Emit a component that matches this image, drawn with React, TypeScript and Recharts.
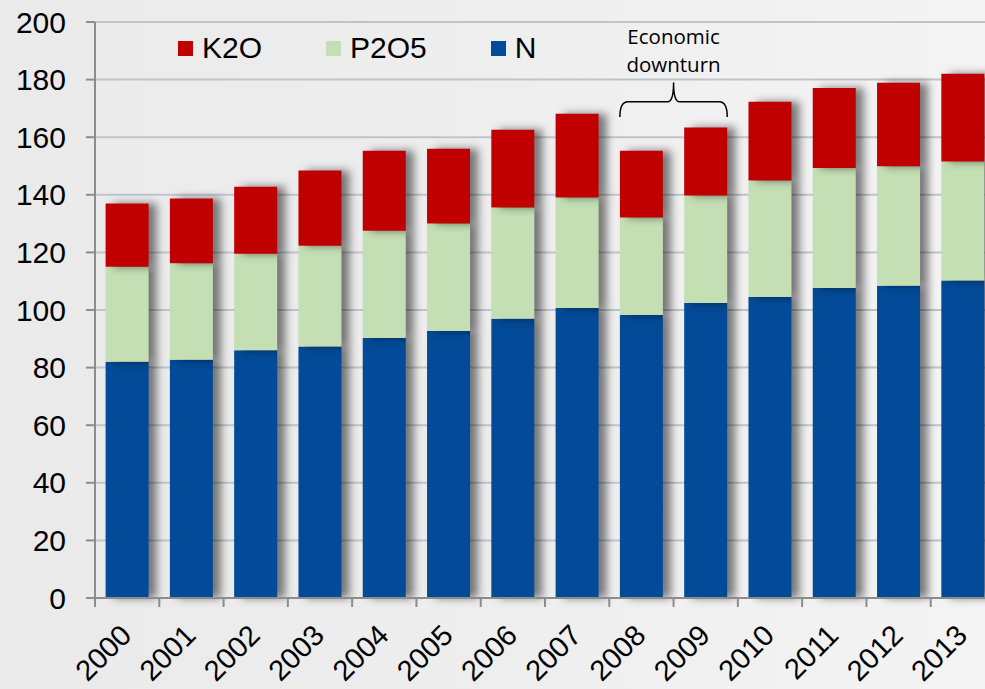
import { BarChart, Bar, XAxis, YAxis, CartesianGrid, ReferenceArea } from 'recharts';

const years = ['2000', '2001', '2002', '2003', '2004', '2005', '2006', '2007', '2008', '2009', '2010', '2011', '2012', '2013'];
const nValues = [82, 82.7, 86, 87.3, 90.3, 92.7, 97, 100.7, 98.3, 102.4, 104.5, 107.6, 108.4, 110.2];
const p2o5Values = [33, 33.5, 33.5, 35, 37.2, 37.3, 38.6, 38.4, 33.8, 37.4, 40.5, 41.7, 41.5, 41.4];
const k2oValues = [22, 22.5, 23.3, 26.1, 27.8, 26, 27, 29, 23.2, 23.6, 27.3, 27.8, 29, 30.4];
const yTicks = [0, 20, 40, 60, 80, 100, 120, 140, 160, 180, 200];

const legendItems = [
  { name: 'K2O', color: '#C00000' },
  { name: 'P2O5', color: '#C4DFB4' },
  { name: 'N', color: '#034B98' },
];

const data = years.map((year, i) => ({
  year,
  N: nValues[i],
  P2O5: p2o5Values[i],
  K2O: k2oValues[i],
}));

const FONT = '"Liberation Sans", Arial, sans-serif';

// eslint-disable-next-line @typescript-eslint/no-explicit-any
function YearTick({ x, y, payload }: any) {
  const off = payload?.offset ?? 32.14;
  return (
    <g>
      <line x1={x - off} x2={x - off} y1={y} y2={y + 9} stroke="#8C8C8C" strokeWidth={2} />
      <text
        x={x + 6}
        y={y + 39}
        transform={`rotate(-45, ${x + 6}, ${y + 39})`}
        textAnchor="end"
        fontSize={29}
        fontFamily={FONT}
        fill="#000"
      >
        {payload.value}
      </text>
    </g>
  );
}

function LegendBox() {
  return (
    <div
      style={{
        position: 'absolute', left: 178, top: 31, display: 'flex', alignItems: 'center',
        fontFamily: FONT, fontSize: 30, lineHeight: '34px',
      }}
    >
      {legendItems.map(item => (
        <div key={item.name} style={{ display: 'flex', alignItems: 'center', marginRight: 64 }}>
          <span style={{ width: 15, height: 15, background: item.color, display: 'inline-block', marginRight: 9 }} />
          <span style={{ color: '#000' }}>{item.name}</span>
        </div>
      ))}
    </div>
  );
}

// brace over the downturn years
// eslint-disable-next-line @typescript-eslint/no-explicit-any
function Brace({ x, y, width, height }: any) {
  const inset = width * 0.0825;
  const L = x + inset;
  const R = x + width - inset;
  const C = (L + R) / 2;
  const T = y;
  const B = y + height;
  const H = y + height * 0.56;
  const d = `M${L},${B} Q${L},${H} ${L + 8},${H} L${C - 6},${H} Q${C},${H} ${C},${T} Q${C},${H} ${C + 6},${H} L${R - 8},${H} Q${R},${H} ${R},${B}`;
  return (
    <g>
      <path d={d} fill="none" stroke="#000" strokeWidth={1.5} />
      <text x={C} y={T - 38} textAnchor="middle" fontSize={20.5} fontFamily='"Open Sans", sans-serif' fill="#000">Economic</text>
      <text x={C} y={T - 10} textAnchor="middle" fontSize={20.5} fontFamily='"Open Sans", sans-serif' fill="#000">downturn</text>
    </g>
  );
}

export default function App() {
  return (
    <div
      style={{
        position: 'absolute', left: 0, top: 0, width: 985, height: 689, overflow: 'hidden',
        background: 'linear-gradient(90deg, #EAEAEA 0%, #EEEEEE 50%, #F4F4F4 100%)',
      }}
    >
      <style>{`.recharts-bar-rectangles { filter: drop-shadow(8px 0px 4px rgba(0,0,0,0.5)); }`}</style>
      <BarChart
        width={1000}
        height={689}
        data={data}
        margin={{ top: 22, right: 5, left: 0, bottom: 0 }}
        barCategoryGap="16.5%"
      >
        <CartesianGrid vertical={false} stroke="#BFC3CC" strokeWidth={2} />
        <XAxis
          dataKey="year"
          height={91}
          interval={0}
          tickLine={false}
          tickSize={0}
          tickMargin={0}
          tick={<YearTick />}
          stroke="#8C8C8C"
          strokeWidth={2}
        />
        <YAxis
          width={95}
          domain={[0, 200]}
          ticks={yTicks}
          interval={0}
          tickSize={9}
          tickMargin={20}
          stroke="#8C8C8C"
          strokeWidth={2}
          tick={{ fill: '#000', fontSize: 30, fontFamily: FONT }}
        />
        <Bar dataKey="N" stackId="a" fill="#034B98" isAnimationActive={false} />
        <Bar dataKey="P2O5" stackId="a" fill="#C4DFB4" isAnimationActive={false} />
        <Bar dataKey="K2O" stackId="a" fill="#C00000" isAnimationActive={false} />
        <ReferenceArea x1="2008" x2="2009" y1={167} y2={179} shape={<Brace />} ifOverflow="visible" />
      </BarChart>
      <LegendBox />
    </div>
  );
}
